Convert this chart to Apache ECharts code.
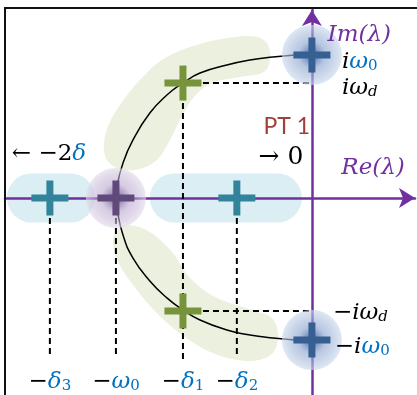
<!DOCTYPE html>
<html><head><meta charset="utf-8">
<style>html,body{margin:0;padding:0;background:#fff}#c{width:417px;height:395px}</style>
<script src="https://cdn.jsdelivr.net/npm/echarts@6/dist/echarts.min.js"></script>
</head><body><div id="c"></div>
<script>
// ---- data (Re, Im) in units of omega0 ----
const undampedPoles    = [[0, 1.0], [0, -0.993]];            // ±iω0
const underdampedPoles = [[-0.658, 0.804], [-0.658, -0.79]]; // -δ1 ± iωd
const criticalPole     = [[-1.0, 0]];                        // -ω0
const overdampedPoles  = [[-1.337, 0], [-0.383, 0]];         // -δ3, -δ2

const locusUpper = [[-1.0,0],[-0.995,0.077],[-0.964,0.245],[-0.913,0.406],[-0.827,0.594],[-0.740,0.720],
  [-0.658,0.804],[-0.571,0.874],[-0.434,0.930],[-0.316,0.965],[-0.199,0.986],[-0.087,1.0]];
const locusLower = [[-1.0,0],[-0.995,-0.070],[-0.964,-0.259],[-0.913,-0.420],[-0.827,-0.580],[-0.740,-0.699],
  [-0.658,-0.783],[-0.571,-0.853],[-0.434,-0.923],[-0.316,-0.958],[-0.199,-0.979],[-0.087,-0.993]];

// shaded regions
const underdampedRegionUpper = [[-1.061,0.385],[-1.031,0.531],[-0.969,0.671],[-0.878,0.825],[-0.750,0.979],
  [-0.571,1.077],[-0.393,1.126],[-0.276,1.126],[-0.224,1.070],[-0.214,0.965],[-0.245,0.881],[-0.367,0.846],
  [-0.510,0.804],[-0.597,0.713],[-0.663,0.573],[-0.724,0.406],[-0.791,0.266],[-0.878,0.203],[-0.980,0.203],[-1.046,0.266]];
const underdampedRegionLower = [[-1.015,-0.301],[-0.990,-0.210],[-0.929,-0.189],[-0.827,-0.238],[-0.714,-0.378],
  [-0.622,-0.559],[-0.495,-0.692],[-0.291,-0.790],[-0.204,-0.839],[-0.173,-0.958],[-0.204,-1.091],[-0.316,-1.140],
  [-0.495,-1.091],[-0.648,-0.972],[-0.776,-0.825],[-0.893,-0.643],[-0.990,-0.448]];
const overdampedRanges = [[-1.556, -1.107], [-0.827, -0.051]];

// guide lines [x1,y1,x2,y2]
const guides = [[-1.337,0,-1.337,-1.12],[-1.0,0,-1.0,-1.12],[-0.658,0.804,-0.658,-1.154],[-0.383,0,-0.383,-1.12],
  [-0.658,0.804,0,0.804],[-0.658,-0.79,0,-0.79]];

// tick labels under the real axis
const realTickValues = [-1.337, -1.0, -0.658, -0.383];
const realTickLabels = ['{m|−}{g|δ}{s|3}', '{m|−}{g|ω}{s|0}', '{m|−}{g|δ}{s|1}', '{m|−}{g|δ}{s|2}'];
const realTickY = -1.29;

// annotations: text, anchor, alignment
const annotations = [
  {text:'{i|i}{g|ω}{s|0}', at:[0.153, 0.951], align:'left'},
  {text:'{i|iω}{k|d}', at:[0.153, 0.769], align:'left'},
  {text:'{m|−}{i|iω}{k|d}', at:[0.107, -0.804], align:'left'},
  {text:'{m|−}{i|i}{g|ω}{s|0}', at:[0.117, -1.042], align:'left'},
  {text:'{ax|Im(λ)}', at:[0.08, 1.14], align:'left'},
  {text:'{ax|Re(λ)}', at:[0.15, 0.21], align:'left'},
  {text:'{pt|PT 1}', at:[-0.128, 0.503], align:'center'},
  {text:'{big|→ 0}', at:[-0.158, 0.28], align:'center'},
  {text:'{m|← −2}{g|δ}', at:[-1.531, 0.308], align:'left'}
];

const MF = 'DejaVu Serif';
const BLUE = '#0070c0';
const rich = {
  m:{fontFamily:MF, fontSize:23, fill:'#000'},
  big:{fontFamily:MF, fontSize:25, fill:'#000'},
  i:{fontFamily:MF, fontStyle:'italic', fontSize:23, fill:'#000'},
  g:{fontFamily:MF, fontStyle:'italic', fontSize:23, fill:BLUE},
  s:{fontFamily:MF, fontSize:15, fill:BLUE, verticalAlign:'bottom'},
  k:{fontFamily:MF, fontStyle:'italic', fontSize:15, fill:'#000', verticalAlign:'bottom'},
  ax:{fontFamily:MF, fontStyle:'italic', fontSize:23, fill:'#7030a0'},
  pt:{fontFamily:'Lato', fontSize:23, fill:'#a0403a'}
};

const chart = echarts.init(document.getElementById('c'), null, {renderer:'canvas'});

function crossSeries(data, color){
  return {type:'custom', z:5, data, renderItem(params, api){
    const p = api.coord([api.value(0), api.value(1)]);
    return {type:'group', children:[
      {type:'rect', shape:{x:p[0]-18.5, y:p[1]-3.5, width:37, height:7}, style:{fill:color}},
      {type:'rect', shape:{x:p[0]-3.5, y:p[1]-17.5, width:7, height:35}, style:{fill:color}}
    ]};
  }};
}
function glowSeries(data, stops){
  return {type:'custom', z:3, data, renderItem(params, api){
    const p = api.coord([api.value(0), api.value(1)]);
    return {type:'circle', shape:{cx:p[0], cy:p[1], r:30},
      style:{fill:{type:'radial', x:0.5, y:0.5, r:0.5, colorStops:stops}}};
  }};
}

const regions = [underdampedRegionUpper, underdampedRegionLower];
const axisLineStyle = {show:true, onZero:true, symbol:['none','arrow'], symbolSize:[15,16], lineStyle:{color:'#7030a0', width:2.5}};

chart.setOption({
  animation:false,
  grid:{left:5, right:2, top:10, bottom:0},
  xAxis:{type:'value', min:-1.566, max:0.526, z:1, axisLine:axisLineStyle,
    axisTick:{show:false}, axisLabel:{show:false}, splitLine:{show:false}},
  yAxis:{type:'value', min:-1.378, max:1.315, z:1, axisLine:axisLineStyle,
    axisTick:{show:false}, axisLabel:{show:false}, splitLine:{show:false}},
  graphic:[{type:'rect', z:10, shape:{x:5, y:8, width:440, height:420}, style:{fill:'none', stroke:'#111', lineWidth:2}}],
  series:[
    {type:'custom', z:0, data:regions.map((r,i)=>[r[0][0], r[0][1], i]), renderItem(params, api){
      const pts = regions[params.dataIndex].map(q=>api.coord(q));
      return {type:'polygon', shape:{points:pts, smooth:0.35}, style:{fill:'#ebf1de'}};
    }},
    {type:'custom', z:0, data:overdampedRanges, renderItem(params, api){
      const a = api.coord([api.value(0), 0]); const b = api.coord([api.value(1), 0]);
      return {type:'rect', shape:{x:a[0], y:a[1]-24.5, width:b[0]-a[0], height:49, r:24.5}, style:{fill:'#daeef3'}};
    }},
    {type:'custom', z:2, data:guides, renderItem(params, api){
      const a = api.coord([api.value(0), api.value(1)]); const b = api.coord([api.value(2), api.value(3)]);
      return {type:'line', shape:{x1:a[0], y1:a[1], x2:b[0], y2:b[1]}, style:{stroke:'#000', lineWidth:2, lineDash:[6,4]}};
    }},
    {type:'line', z:2, data:locusUpper, smooth:true, symbol:'none', lineStyle:{color:'#000', width:1.5}},
    {type:'line', z:2, data:locusLower, smooth:true, symbol:'none', lineStyle:{color:'#000', width:1.5}},
    glowSeries(undampedPoles, [{offset:0,color:'rgba(50,90,160,0.95)'},{offset:0.45,color:'rgba(135,160,205,0.6)'},{offset:1,color:'rgba(205,218,236,0.65)'}]),
    glowSeries(criticalPole, [{offset:0,color:'rgba(100,70,140,0.9)'},{offset:0.5,color:'rgba(175,155,200,0.5)'},{offset:1,color:'rgba(228,220,235,0.65)'}]),
    crossSeries(overdampedPoles, '#31849b'),
    crossSeries(criticalPole, '#604a7b'),
    crossSeries(underdampedPoles, '#77933c'),
    crossSeries(undampedPoles, '#376092'),
    {type:'custom', z:6, data:realTickValues.map((v,i)=>[v, realTickY, i]), renderItem(params, api){
      const p = api.coord([api.value(0), api.value(1)]);
      return {type:'text', x:p[0], y:p[1], style:{text:realTickLabels[params.dataIndex], rich, align:'center', verticalAlign:'middle'}};
    }},
    {type:'custom', z:6, data:annotations.map((a,i)=>[a.at[0], a.at[1], i]), renderItem(params, api){
      const a = annotations[params.dataIndex];
      const p = api.coord([api.value(0), api.value(1)]);
      return {type:'text', x:p[0], y:p[1], style:{text:a.text, rich, align:a.align, verticalAlign:'middle'}};
    }}
  ]
});
</script></body></html>
